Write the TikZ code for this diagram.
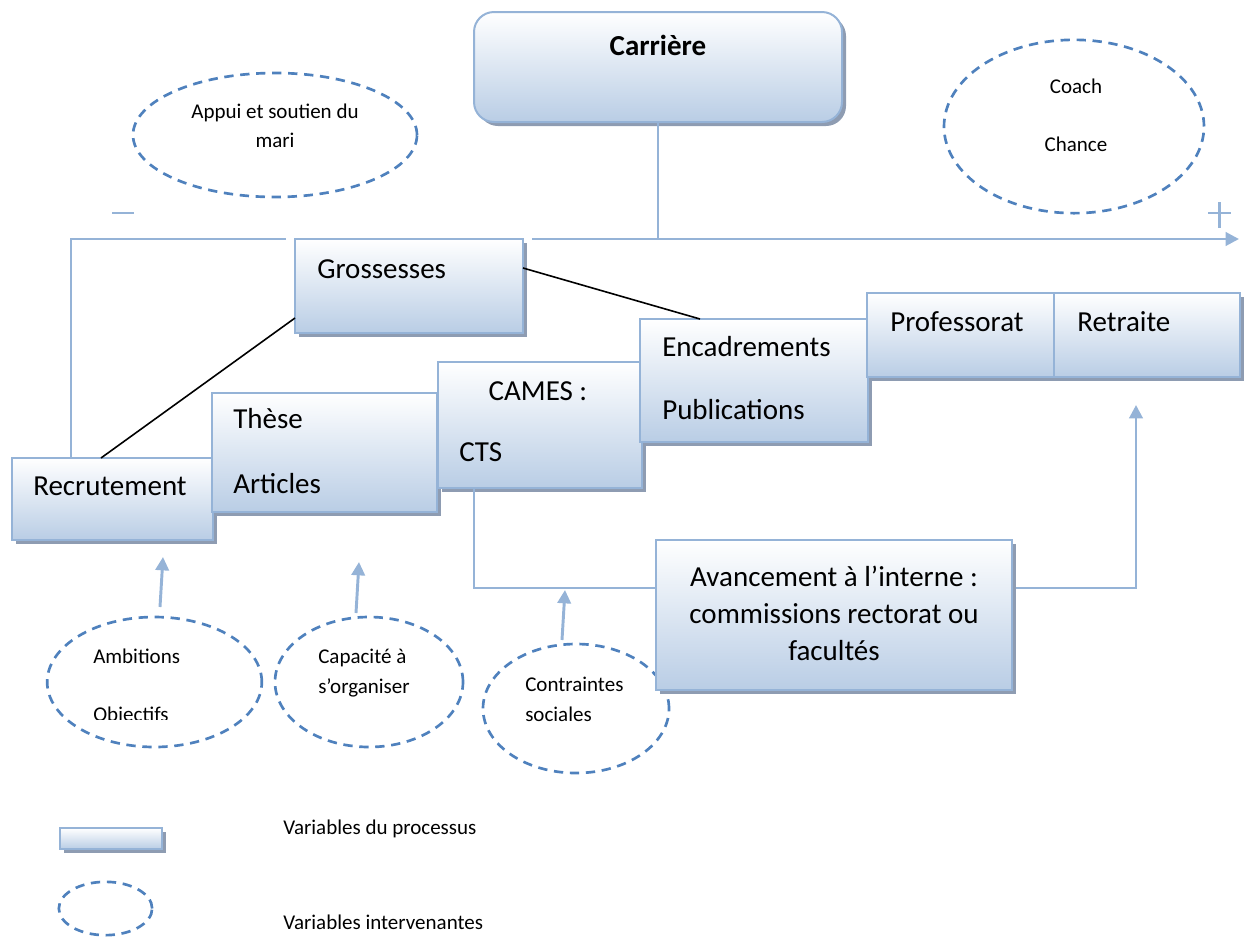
\documentclass[tikz,border=0pt]{standalone}
\usepackage{fontspec}
\setmainfont{Carlito}
\usetikzlibrary{shapes.geometric,arrows.meta,shadows,fit,calc}
\definecolor{boxline}{HTML}{95B3D7}
\definecolor{boxfill}{HTML}{B9CDE5}
\definecolor{shadowc}{HTML}{8E9CB2}
\definecolor{dashc}{HTML}{4F81BD}
\definecolor{arrowc}{HTML}{95B3D7}
\tikzset{
  pbox/.style={rectangle, draw=boxline, line width=1.5pt, top color=white, bottom color=boxfill,
    inner sep=0pt, outer sep=0pt,
    drop shadow={shadow xshift=3pt, shadow yshift=-3pt, opacity=1, fill=shadowc}},
  varell/.style={ellipse, draw=dashc, line width=2pt, dash pattern=on 7pt off 5pt, inner sep=0pt},
  bigtxt/.style={font=\fontsize{21.75pt}{27.75pt}\selectfont, inner sep=0pt, text height=13pt, text depth=0pt},
  smalltxt/.style={font=\fontsize{15.75pt}{20pt}\selectfont, inner sep=0pt, text height=9.45pt, text depth=0pt},
  axisline/.style={draw=arrowc, line width=2.2pt},
  bluearrow/.style={draw=arrowc, line width=2.2pt, -{Triangle[length=10pt,width=10pt]}},
  blackline/.style={draw=black, line width=1.2pt},
}
\begin{document}
\begin{tikzpicture}[x=0.75pt, y=-0.75pt]
\useasboundingbox (0,0) rectangle (1246,936);

% intervening variables (ellipses)
\node[varell, minimum width=213pt, minimum height=93pt] (appui) at (275,135) {};
\node[varell, minimum width=195pt, minimum height=130pt] (coach) at (1074,126.5) {};
\node[varell, minimum width=161pt, minimum height=97.5pt] (amb) at (154.5,682) {};
\node[varell, minimum width=141pt, minimum height=97.5pt] (cap) at (369,682) {};
\node[varell, minimum width=139.5pt, minimum height=96.75pt] (contr) at (576,708.5) {};
\node[varell, minimum width=70pt, minimum height=40pt] (legell) at (105.5,908.5) {};

\node[smalltxt] (appuiA) at (275,112) {Appui et soutien du};
\node[smalltxt] (appuiB) at (275,141) {mari};
\node[smalltxt] (coachT) at (1076,87) {Coach};
\node[smalltxt] (chanceT) at (1076,145) {Chance};
\node[smalltxt, anchor=west] (ambT) at (93,657) {Ambitions};
\begin{scope}
  \clip (40,600) rectangle (270,719);
  \node[smalltxt, anchor=west] (objT) at (93,715) {Objectifs};
\end{scope}
\node[smalltxt, anchor=west] (capT) at (318,657) {Capacité à};
\node[smalltxt, anchor=west] (orgT) at (318,687) {s’organiser};
\node[smalltxt, anchor=west] (contrT) at (525,685) {Contraintes};
\node[smalltxt, anchor=west] (socT) at (525,715) {sociales};

% axis
\coordinate (axl) at (71,239);
\coordinate (gl) at (286,239);
\coordinate (gr) at (532,239);
\coordinate (tip) at (1239,239);

% boxes
\node[pbox, rounded corners=15pt, fit={(474,12)(842,122)}] (carrbox) {};
\node[pbox, fit={(12,458)(213,540)}] (recrbox) {};
\node[pbox, fit={(212,393)(437,512)}] (thesebox) {};
\node[pbox, fit={(438,362)(642,488)}] (camesbox) {};
\node[pbox, fit={(640,319)(868,442)}] (encadbox) {};
\node[pbox, fit={(867,293)(1054,377)}] (profbox) {};
\node[pbox, fit={(1054,293)(1240,377)}] (retrbox) {};

\draw[axisline] (recrbox.north -| axl) -- (axl) -- (gl);
\draw[bluearrow] (gr) -- (tip);
\draw[axisline] (carrbox.south) -- (carrbox.south |- tip);
\draw[draw=arrowc, line width=1.8pt] (112,213) -- (134,213);
\draw[draw=arrowc, line width=1.8pt] (1208,213) -- (1231,213) (1219.5,202) -- (1219.5,228);

\node[pbox, fit={(295,239)(523,333)}] (grossbox) {};

% connectors to Avancement
\coordinate (j1) at (474,588);
\coordinate (j2) at (1136,588);
\coordinate (rtip) at (1136,405);
\draw[axisline] (camesbox.south -| j1) -- (j1) -- (j1 -| 656,0);
\draw[bluearrow] (1012,588) -- (j2) -- (rtip);
\node[pbox, fit={(656,540)(1012,690)}] (avbox) {};

% arrows from intervening variables
\coordinate (a1s) at (160,607); \coordinate (a1e) at (163,557);
\coordinate (a2s) at (356,613); \coordinate (a2e) at (359,562);
\coordinate (a3s) at (562,640); \coordinate (a3e) at (565,590);
\draw[bluearrow] (a1s) -- (a1e);
\draw[bluearrow] (a2s) -- (a2e);
\draw[bluearrow] (a3s) -- (a3e);

% black connectors
\draw[blackline] ($(grossbox.south west)+(0,-15)$) -- ($(recrbox.north west)+(89,0)$);
\draw[blackline] ($(grossbox.north east)+(0,29)$) -- ($(encadbox.north west)+(60,0)$);

% box texts
\node[bigtxt, font=\fontsize{21.75pt}{27.75pt}\selectfont\bfseries] (carrT) at (658,47) {Carrière};
\node[bigtxt, anchor=west] (grossT) at (317,270) {Grossesses};
\node[bigtxt, anchor=west] (recrT) at (33,487) {Recrutement};
\node[bigtxt, anchor=west] (theseT) at (233,420) {Thèse};
\node[bigtxt, anchor=west] (artT) at (233,485) {Articles};
\node[bigtxt] (camesT) at (538,392) {CAMES :};
\node[bigtxt, anchor=west] (ctsT) at (459,453) {CTS};
\node[bigtxt, anchor=west] (encT) at (662,348) {Encadrements};
\node[bigtxt, anchor=west] (pubT) at (662,411) {Publications};
\node[bigtxt, anchor=west] (profT) at (890,323) {Professorat};
\node[bigtxt, anchor=west] (retrT) at (1077,323) {Retraite};
\node[bigtxt] (avA) at (834,578) {Avancement à l’interne :};
\node[bigtxt] (avB) at (834,615) {commissions rectorat ou};
\node[bigtxt] (avC) at (834,652) {facultés};

% legend
\node[pbox, line width=1.2pt, fit={(60,828)(162,849)}] (legbox) {};
\node[smalltxt, anchor=west] (leg1) at (283,828) {Variables du processus};
\node[smalltxt, anchor=west] (leg2) at (283,923) {Variables intervenantes};
\end{tikzpicture}
\end{document}
